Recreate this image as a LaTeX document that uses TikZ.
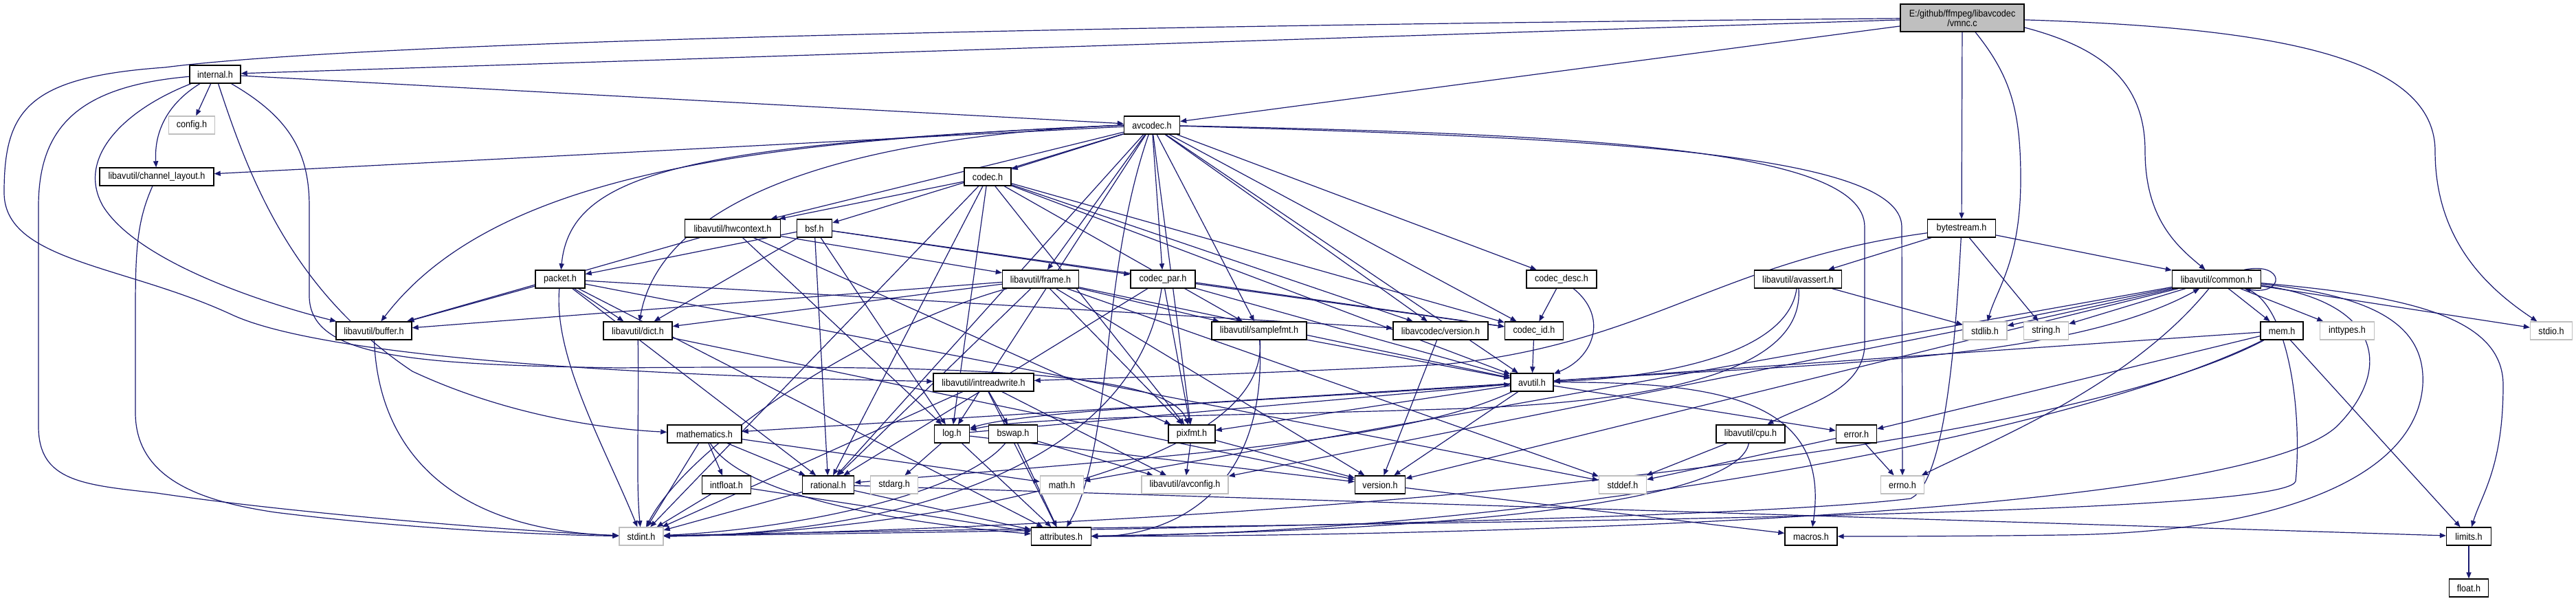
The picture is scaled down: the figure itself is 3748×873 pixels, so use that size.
\documentclass[tikz,border=0pt]{standalone}
\usepackage{fontspec}
\setmainfont{Liberation Sans}[FakeStretch=0.9]
\usetikzlibrary{arrows.meta}
\pgfdeclarelayer{bg}
\pgfdeclarelayer{edges}
\pgfsetlayers{bg,edges,main}
\definecolor{edgec}{HTML}{191970}
\definecolor{gbord}{HTML}{BFBFBF}
\begin{document}
\begin{tikzpicture}[x=0.5pt,y=-0.5pt,
  e/.style={draw=edgec,line width=0.6pt,-{Triangle[length=4.5pt,width=3.6pt]}},
  nb/.style={draw=black,line width=0.7pt,fill=white,inner sep=0pt,minimum height=13pt,font=\fontsize{7pt}{8pt}\selectfont},
  ng/.style={nb,draw=gbord}]
\begin{pgfonlayer}{bg}
\fill[white] (0,0) rectangle (3748,873);
\end{pgfonlayer}
\useasboundingbox (0,0) rectangle (3748,873);
% nodes
\node[nb,fill=gbord,minimum width=90pt,minimum height=20pt,align=center] (root) at (2855,26) {E:/github/ffmpeg/libavcodec\\[-1pt]/vmnc.c};
\node[nb,minimum width=37pt] (internal) at (313,108) {internal.h};
\node[ng,minimum width=33.5pt] (config) at (279,182) {config.h};
\node[nb,minimum width=40.5pt] (avcodec) at (1676,182) {avcodec.h};
\node[nb,minimum width=83pt] (chl) at (228,257) {libavutil/channel\_layout.h};
\node[nb,minimum width=34pt] (codec) at (1437,257) {codec.h};
\node[nb,minimum width=69.5pt] (hwcontext) at (1066,332) {libavutil/hwcontext.h};
\node[nb,minimum width=25.5pt] (bsf) at (1185,332) {bsf.h};
\node[nb,minimum width=49.5pt] (bytestream) at (2854,332) {bytestream.h};
\node[nb,minimum width=36pt] (packet) at (815,406) {packet.h};
\node[nb,minimum width=55.5pt] (frame) at (1514,406) {libavutil/frame.h};
\node[nb,minimum width=47pt] (codecpar) at (1692,406) {codec\_par.h};
\node[nb,minimum width=51pt] (codecdesc) at (2272,406) {codec\_desc.h};
\node[nb,minimum width=63.5pt] (avassert) at (2616,406) {libavutil/avassert.h};
\node[nb,minimum width=64.5pt] (common) at (3225,406) {libavutil/common.h};
\node[nb,minimum width=55pt] (buffer) at (544,481) {libavutil/buffer.h};
\node[nb,minimum width=50pt] (dict) at (928,481) {libavutil/dict.h};
\node[nb,minimum width=69pt] (samplefmt) at (1832,481) {libavutil/samplefmt.h};
\node[nb,minimum width=69pt] (lavcver) at (2096,481) {libavcodec/version.h};
\node[nb,minimum width=42.5pt] (codecid) at (2232,481) {codec\_id.h};
\node[ng,minimum width=32pt] (stdlib) at (2888,481) {stdlib.h};
\node[ng,minimum width=32.5pt] (string) at (2977,481) {string.h};
\node[nb,minimum width=31pt] (mem) at (3320,481) {mem.h};
\node[ng,minimum width=39.5pt] (inttypes) at (3415,481) {inttypes.h};
\node[ng,minimum width=30.5pt] (stdio) at (3712,481) {stdio.h};
\node[nb,minimum width=73pt] (intrw) at (1431,556) {libavutil/intreadwrite.h};
\node[nb,minimum width=31pt] (avutil) at (2229,556) {avutil.h};
\node[nb,minimum width=54pt] (mathematics) at (1025,631) {mathematics.h};
\node[nb,minimum width=25.5pt] (log) at (1385,631) {log.h};
\node[nb,minimum width=35.5pt] (bswap) at (1474,631) {bswap.h};
\node[nb,minimum width=34pt] (pixfmt) at (1734,631) {pixfmt.h};
\node[nb,minimum width=50pt] (cpu) at (2547,631) {libavutil/cpu.h};
\node[nb,minimum width=29.5pt] (error) at (2701,631) {error.h};
\node[nb,minimum width=35.5pt] (intfloat) at (1057,705) {intfloat.h};
\node[nb,minimum width=37.5pt] (rational) at (1205,705) {rational.h};
\node[ng,minimum width=34.5pt] (stdarg) at (1301,705) {stdarg.h};
\node[ng,minimum width=31.5pt] (math) at (1545,705) {math.h};
\node[ng,minimum width=63pt] (avconfig) at (1724,705) {libavutil/avconfig.h};
\node[nb,minimum width=36.5pt] (version) at (2008,705) {version.h};
\node[ng,minimum width=34.5pt] (stddef) at (2361,705) {stddef.h};
\node[ng,minimum width=31.5pt] (errno) at (2768,705) {errno.h};
\node[ng,minimum width=32pt] (stdint) at (933,780) {stdint.h};
\node[nb,minimum width=43.5pt] (attributes) at (1544,780) {attributes.h};
\node[nb,minimum width=38pt] (macros) at (2635,780) {macros.h};
\node[nb,minimum width=32.5pt] (limits) at (3592,780) {limits.h};
\node[nb,minimum width=28.5pt] (float) at (3592,855) {float.h};
\begin{pgfonlayer}{edges}
% root
\draw[e] (root) -- (internal);
\draw[e] (root) -- (avcodec);
\draw[e] (root) .. controls (1500,38) and (520,62) .. (240,98) .. controls (40,112) and (6,160) .. (6,280) .. controls (6,380) and (180,385) .. (336,457) .. controls (480,525) and (1000,548) .. (intrw);
\draw[e] (root) -- (bytestream);
\draw[e] ([xshift=9.5pt]root.south) .. controls (2925,110) and (2940,160) .. (2940,260) .. controls (2940,380) and (2905,420) .. (stdlib);
\draw[e] ([yshift=-7pt]root.east) .. controls (3060,70) and (3121,120) .. (3121,220) .. controls (3121,320) and (3170,360) .. (common);
\draw[e] (root) .. controls (3300,40) and (3543,80) .. (3543,220) .. controls (3543,350) and (3620,420) .. (stdio);
% internal
\draw[e] (internal) -- (config);
\draw[e] (internal) .. controls (245,150) and (224,190) .. (chl);
\draw[e] (internal) .. controls (120,125) and (56,180) .. (56,300) -- (56,620) .. controls (56,700) and (120,705) .. (228,717) .. controls (450,750) and (800,775) .. (stdint);
\draw[e] (internal) .. controls (180,160) and (110,230) .. (150,300) .. controls (200,380) and (380,440) .. (buffer);
\draw[e] (internal) .. controls (360,250) and (420,420) .. (600,540) .. controls (750,610) and (900,625) .. (mathematics);
\draw[e] (internal) .. controls (420,170) and (450,220) .. (450,300) -- (450,430) .. controls (450,520) and (600,530) .. (900,535) .. controls (1400,530) and (1700,540) .. (pixfmt);
\draw[e] (internal) -- (avcodec);
% avcodec
\draw[e] (avcodec) .. controls (2300,200) and (2767,220) .. (2767,330) -- (errno);
\draw[e] (avcodec) .. controls (2300,195) and (2713,215) .. (2713,330) -- (2713,500) .. controls (2713,570) and (2620,590) .. (cpu);
\draw[e] (avcodec) -- (samplefmt);
\draw[e] (avcodec) .. controls (1600,400) and (1620,650) .. (attributes);
\draw[e] (avcodec) -- (avutil);
\draw[e] (avcodec.west) .. controls (1100,205) and (720,250) .. (buffer);
\draw[e] (avcodec) -- (chl);
\draw[e] (avcodec.west) .. controls (1200,200) and (960,300) .. (dict);
\draw[e] (avcodec) -- (frame);
\draw[e] (avcodec) -- (hwcontext);
\draw[e] (avcodec) -- (log);
\draw[e] (avcodec) -- (pixfmt);
\draw[e] (avcodec) -- (rational);
\draw[e] (avcodec) -- (bsf);
\draw[e] (avcodec) -- (codec);
\draw[e] (avcodec) -- (codecdesc);
\draw[e] (avcodec) -- (codecpar);
\draw[e] (avcodec) -- (codecid);
\draw[e] (avcodec.west) .. controls (1000,210) and (830,250) .. (packet);
\draw[e] (avcodec) -- (lavcver);
% codec
\draw[e] (codec) -- (stdint);
\draw[e] (codec) -- (avutil);
\draw[e] (codec) -- (hwcontext);
\draw[e] (codec) -- (log);
\draw[e] (codec) -- (pixfmt);
\draw[e] (codec) -- (rational);
\draw[e] (codec) -- (samplefmt);
\draw[e] (codec) -- (codecid);
\draw[e] (codec) -- (lavcver);
% bsf
\draw[e] (bsf) -- (dict);
\draw[e] (bsf) -- (log);
\draw[e] (bsf) -- (rational);
\draw[e] (bsf) -- (codecid);
\draw[e] (bsf) -- (codecpar);
\draw[e] (bsf) -- (packet);
% codec_par
\draw[e] (codecpar) .. controls (1650,700) and (1250,778) .. (stdint);
\draw[e] (codecpar) -- (avutil);
\draw[e] (codecpar) -- (rational);
\draw[e] (codecpar) -- (pixfmt);
\draw[e] (codecpar) -- (codecid);
% codec_desc, codec_id
\draw[e] (codecdesc) .. controls (2340,460) and (2320,520) .. (avutil);
\draw[e] (codecdesc) -- (codecid);
\draw[e] (codecid) -- (avutil);
% packet
\draw[e] (packet) -- (stddef);
\draw[e] (packet) .. controls (805,520) and (880,650) .. (stdint);
\draw[e] (packet) -- (attributes);
\draw[e] (packet) -- (buffer);
\draw[e] (packet) -- (dict);
\draw[e] (packet) -- (rational);
\draw[e] (packet) -- (lavcver);
\draw[e] (lavcver) -- (version);
% hwcontext
\draw[e] (hwcontext) -- (buffer);
\draw[e] (hwcontext) -- (frame);
\draw[e] (hwcontext) -- (log);
\draw[e] (hwcontext) -- (pixfmt);
% frame
\draw[e] (frame) -- (stddef);
\draw[e] (frame) .. controls (1250,480) and (1000,650) .. (stdint);
\draw[e] (frame) -- (avutil);
\draw[e] (frame) -- (buffer);
\draw[e] (frame) -- (dict);
\draw[e] (frame) -- (rational);
\draw[e] (frame) -- (samplefmt);
\draw[e] (frame) -- (pixfmt);
\draw[e] (frame) -- (version);
% samplefmt
\draw[e] (samplefmt) .. controls (1850,700) and (1250,778) .. (stdint);
\draw[e] (samplefmt) -- (avutil);
\draw[e] (samplefmt) .. controls (1845,720) and (1700,780) .. (attributes);
% dict, buffer, channel_layout
\draw[e] (dict) .. controls (930,600) and (925,700) .. (stdint);
\draw[e] (dict) -- (version);
\draw[e] (buffer) .. controls (550,650) and (650,770) .. (stdint);
\draw[e] (chl) .. controls (200,320) and (197,360) .. (197,450) -- (197,600) .. controls (197,700) and (300,730) .. (400,745) .. controls (600,770) and (800,778) .. (stdint);
% avutil
\draw[e] (avutil) .. controls (2600,530) and (3000,530) .. (common);
\draw[e] (avutil) -- (error);
\draw[e] (avutil) .. controls (2050,640) and (1750,660) .. (rational);
\draw[e] (avutil) -- (version);
\draw[e] (avutil) .. controls (2500,555) and (2665,580) .. (macros);
\draw[e] (avutil) -- (mathematics);
\draw[e] (avutil) .. controls (1900,580) and (1500,595) .. (log);
\draw[e] (avutil) -- (pixfmt);
% common
\draw[e] (common) .. controls (3100,560) and (2900,640) .. (errno);
\draw[e] (common) -- (inttypes);
\draw[e] (common) -- (mem);
\draw[e] (common) -- (stdlib);
\draw[e] (common) -- (string);
\draw[e] (common) -- (stdio);
\draw[e] (common) -- (avconfig);
\draw[e] (common) -- (math);
\draw[e] (common) -- (version);
\draw[e] (common) .. controls (3470,440) and (3480,540) .. (3400,620) .. controls (3250,760) and (2000,780) .. (attributes);
\draw[e] (common) .. controls (3330,440) and (3350,600) .. (3340,700) .. controls (3320,760) and (1700,760) .. (stdint);
\draw[e] (common) .. controls (3500,430) and (3642,460) .. (3642,560) .. controls (3642,680) and (3610,720) .. (limits);
\draw[e] (common) .. controls (3450,430) and (3530,470) .. (3525,560) .. controls (3515,700) and (3300,775) .. (3000,778) .. controls (2850,780) and (2750,780) .. (macros);
\draw[e] ([xshift=-12.5pt]common.north east) .. controls (3325,380) and (3325,430) .. ([xshift=-12.5pt]common.south east);
% mem
\draw[e] (mem) -- (limits);
\draw[e] (mem) .. controls (3000,650) and (2000,760) .. (stdint);
\draw[e] (mem) .. controls (3000,640) and (2200,775) .. (attributes);
\draw[e] (mem) -- (error);
\draw[e] (mem) -- (avutil);
% error, rational, mathematics, intfloat
\draw[e] (error) -- (errno);
\draw[e] (error) -- (stddef);
\draw[e] (rational) -- (stdint);
\draw[e] (rational) -- (limits);
\draw[e] (rational) -- (attributes);
\draw[e] (mathematics) -- (stdint);
\draw[e] (mathematics) -- (math);
\draw[e] (mathematics) .. controls (1080,720) and (1300,760) .. (attributes);
\draw[e] (mathematics) -- (rational);
\draw[e] (mathematics) -- (intfloat);
\draw[e] (intfloat) -- (stdint);
\draw[e] (intfloat) -- (attributes);
% log, pixfmt, version, limits
\draw[e] (log) -- (stdarg);
\draw[e] (log) -- (avutil);
\draw[e] (log) -- (attributes);
\draw[e] (log) -- (version);
\draw[e] (pixfmt) -- (avconfig);
\draw[e] (pixfmt) -- (version);
\draw[e] (version) -- (macros);
\draw[e] (limits) -- (float);
% bswap, intreadwrite, cpu
\draw[e] (bswap) .. controls (1400,720) and (1150,770) .. (stdint);
\draw[e] (bswap) -- (avconfig);
\draw[e] (bswap) -- (attributes);
\draw[e] (intrw) -- (stdint);
\draw[e] (intrw) -- (avconfig);
\draw[e] (intrw) -- (attributes);
\draw[e] (intrw) -- (bswap);
\draw[e] (cpu) -- (stddef);
\draw[e] (cpu) .. controls (2530,720) and (2200,770) .. (attributes);
% avassert
\draw[e] (avassert) -- (stdlib);
\draw[e] (avassert) .. controls (2600,520) and (2400,550) .. (avutil);
\draw[e] (avassert) .. controls (2625,530) and (2450,585) .. (2100,595) .. controls (1800,605) and (1500,605) .. (log);
% bytestream
\draw[e] (bytestream) -- (avassert);
\draw[e] (bytestream) -- (string);
\draw[e] (bytestream) -- (common);
\draw[e] (bytestream) .. controls (2500,380) and (2400,500) .. (2100,530) .. controls (1800,545) and (1600,550) .. (intrw);
\draw[e] (bytestream) .. controls (2845,500) and (2830,700) .. (2780,725) .. controls (2500,760) and (1300,775) .. (stdint);
\end{pgfonlayer}
\end{tikzpicture}
\end{document}
